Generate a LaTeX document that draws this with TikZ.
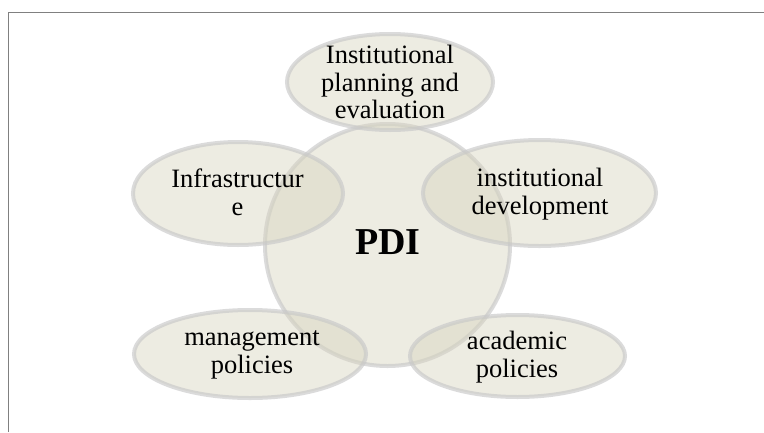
\documentclass[tikz,border=0pt]{standalone}
\usepackage{fontspec}
\setmainfont{Liberation Serif}
\usetikzlibrary{shapes.geometric}
\definecolor{blobfill}{RGB}{215,212,190}
\definecolor{blobedge}{RGB}{200,200,200}
\definecolor{framegray}{RGB}{128,128,128}
\tikzset{
  blob/.style={ellipse, inner sep=0pt, outer sep=0pt,
    fill=blobfill, fill opacity=0.45,
    draw=blobedge, draw opacity=0.65, line width=4pt},
  label text/.style={align=center, text=black, inner sep=0pt,
    font=\fontsize{26.5}{27.5}\selectfont},
  hub text/.style={inner sep=0pt, text=black,
    font=\fontsize{38}{40}\selectfont\bfseries},
}
\begin{document}
\begin{tikzpicture}[x=1pt, y=-1pt]
  \useasboundingbox (0,0) rectangle (764,432);
  % page frame: left and top rules
  \coordinate (fbl) at (8.5,432);
  \coordinate (ftl) at (8.5,12.5);
  \coordinate (ftr) at (764,12.5);
  \draw[framegray, line width=1.3pt] (fbl) -- (ftl) -- (ftr);

  % overlapping ellipses
  \node[blob, minimum width=245pt, minimum height=242pt] (hub) at (387.5,245) {};
  \node[blob, minimum width=206pt, minimum height=96pt]  (plan) at (390,82) {};
  \node[blob, minimum width=210pt, minimum height=103pt] (infra) at (238,193.5) {};
  \node[blob, minimum width=233pt, minimum height=106pt] (devel) at (539.5,193) {};
  \node[blob, minimum width=232pt, minimum height=88pt]  (mgmt) at (250,354) {};
  \node[blob, minimum width=215pt, minimum height=82pt]  (acad) at (517.5,356) {};

  % labels on top of all fills
  \node[hub text]   (hubl)   at (388,242.5) {PDI};
  \node[label text] (planl)  at (390,82)  {Institutional\\planning and\\evaluation};
  \node[label text] (infral) at (237.5,192.5) {Infrastructur\\e};
  \node[label text] (devell) at (540,194) {institutional\\development};
  \node[label text] (mgmtl)  at (252,355) {management\\policies};
  \node[label text] (acadl)  at (517,357) {academic\\policies};
\end{tikzpicture}
\end{document}
